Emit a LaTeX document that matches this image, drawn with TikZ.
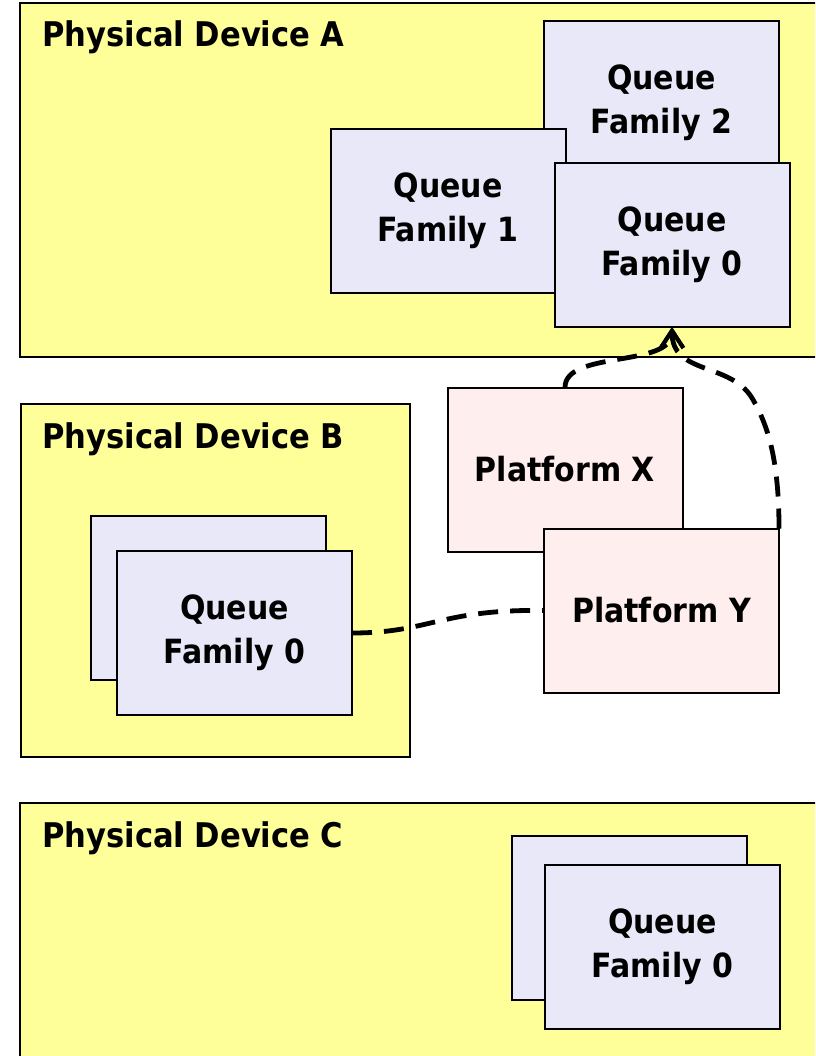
\documentclass[tikz,border=0pt]{standalone}
\usepackage{fontspec}
\setmainfont{DejaVu Sans Condensed}
\usetikzlibrary{arrows.meta}
\definecolor{devyellow}{HTML}{FFFF99}
\definecolor{qlav}{HTML}{E8E8F8}
\definecolor{plpink}{HTML}{FFEEEE}
\tikzset{
  devbox/.style={draw=black, fill=devyellow, line width=1.3pt, inner sep=0pt, outer sep=0pt},
  devlabel/.style={anchor=base west, inner sep=0pt, font=\fontsize{25.5pt}{30pt}\selectfont\bfseries},
  qbox/.style={draw=black, fill=qlav, line width=1.5pt, inner sep=0pt, outer sep=0pt,
    minimum width=176.25pt, minimum height=123pt, align=center,
    font=\fontsize{25pt}{33pt}\selectfont\bfseries},
  pbox/.style={qbox, fill=plpink},
  conn/.style={draw=black, line width=3.6pt, dash pattern=on 15pt off 9pt},
  tipv/.style={-{Straight Barb[length=13pt, width=17pt, line width=3pt]}}
}
\begin{document}
\begin{tikzpicture}[x=0.75pt, y=-0.75pt]
\useasboundingbox (0,0) rectangle (815,1056);
\clip (0,0) rectangle (815,1056);
\fill[white] (0,0) rectangle (815,1056);
% Device A
\node[devbox, minimum width=607.5pt, minimum height=265.5pt] (devA) at (425,180) {};
\node[devlabel] (labA) at (42,47) {Physical Device A};
\node[qbox] (qa2) at (661.5,103) {Queue\\Family 2};
\node[qbox] (qa1) at (448,210.5) {Queue\\Family 1};
\node[qbox] (qa0) at (672,245) {Queue\\Family 0};
% Device B
\node[devbox, minimum width=291.75pt, minimum height=264.75pt] (devB) at (215.5,580.5) {};
\node[devlabel] (labB) at (42,448) {Physical Device B};
\node[qbox] (qbb) at (208,597.5) {};
\node[qbox] (qb0) at (234.5,633) {Queue\\Family 0};
% Device C
\node[devbox, minimum width=607.5pt, minimum height=200.25pt] (devC) at (425,936.5) {};
\node[devlabel] (labC) at (42,847) {Physical Device C};
\node[qbox] (qcb) at (629.5,917.5) {};
\node[qbox] (qc0) at (662.5,947) {Queue\\Family 0};
% Platforms
\node[pbox] (px) at (565,469.5) {Platform X};
\node[pbox] (py) at (661.5,610.5) {Platform Y};
% Connectors
\draw[conn, tipv] (px.north) .. controls (565,350) and (672,368) .. (qa0.south);
\draw[conn, tipv] (py.north east) .. controls (779,460) and (768,425) .. (752,398)
   .. controls (730,362) and (672,375) .. (qa0.south);
\draw[conn] (qb0.east) .. controls (430,633) and (440,609) .. (py.west);
\end{tikzpicture}
\end{document}
